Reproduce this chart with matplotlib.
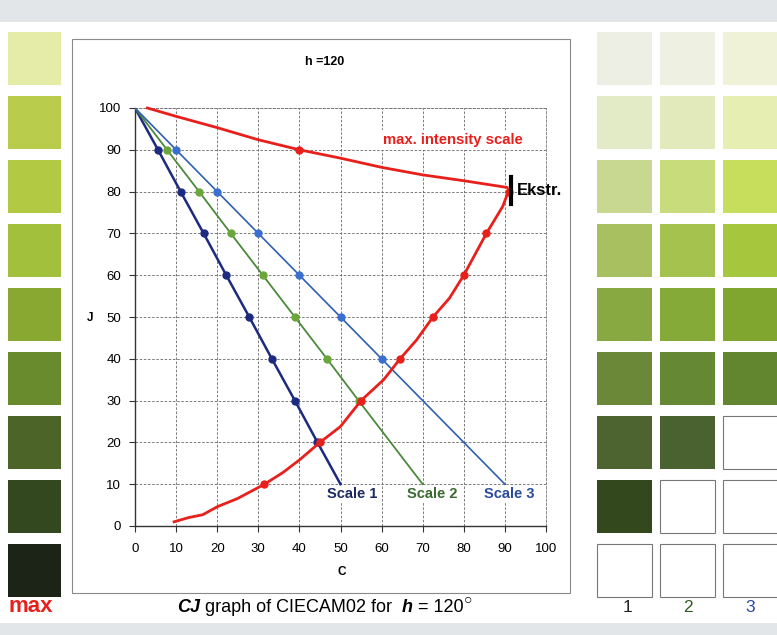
import matplotlib.pyplot as plt
from matplotlib.patches import Rectangle

plt.rcParams['font.family'] = ['Liberation Sans', 'DejaVu Sans']

# J levels shared by the three scales
scale_J = [100, 90, 80, 70, 60, 50, 40, 30, 20, 10]
scale1_C = [0, 5.6, 11.1, 16.7, 22.2, 27.8, 33.3, 38.9, 44.4, 50]
scale2_C = [0, 7.8, 15.6, 23.3, 31.1, 38.9, 46.7, 54.4, 62.2, 70]
scale3_C = [0, 10, 20, 30, 40, 50, 60, 70, 80, 90]
# how many marked points (after J=100) each scale has
scale_marked = [8, 7, 6]

# max intensity scale, upper branch (white -> extreme)
top_C = [3, 10, 20, 30, 40, 50, 60, 70, 80, 90.5]
top_J = [100, 98, 95.3, 92.4, 90, 88, 85.8, 84, 82.6, 81]
# lower branch (black -> extreme)
low_C = [9.5, 13, 16.5, 20, 25, 31.5, 36, 40, 45, 50, 55, 60.5, 64.5, 68.5, 72.5, 76.5, 80, 85.5, 89.5, 91]
low_J = [1, 2, 2.7, 4.6, 6.6, 10, 12.8, 15.8, 20, 23.8, 30, 35, 40, 44.5, 50, 54.5, 60, 70, 76.5, 80.5]
max_mark_C = [40, 31.5, 45, 55, 64.5, 72.5, 80, 85.5, 91]
max_mark_J = [90, 10, 20, 30, 40, 50, 60, 70, 80]

# swatch colours, top row first (None = empty box)
max_swatches = ['#e4eca8', '#b9cc4c', '#b2c944', '#a2c03c', '#88a832',
                '#6a8a2e', '#4c6428', '#344820', '#1c2418']
scale_swatches = [
    ['#eeefe4', '#eef0e2', '#f0f2d8'],
    ['#e2eac6', '#e2eabc', '#e6eeb2'],
    ['#c8d890', '#c8dc7c', '#c6de5c'],
    ['#a8c060', '#a6c24e', '#a6c63e'],
    ['#88a842', '#86aa38', '#80a630'],
    ['#6a8838', '#648834', '#628630'],
    ['#4e6430', '#4a6230', None],
    ['#34481e', None, None],
    [None, None, None],
]

W, H = 777, 635
fig = plt.figure(figsize=(W / 100, H / 100), dpi=100)


def px(x, y):
    return x / W, 1 - y / H


def box(x, y, w, h, **kw):
    fx, fy = px(x, y + h)
    fig.add_artist(Rectangle((fx, fy), w / W, h / H, transform=fig.transFigure, **kw))


# scanned page bands
box(0, 0, W, 22, facecolor='#e2e6e8', edgecolor='none')
box(0, 623, W, 12, facecolor='#e2e6e8', edgecolor='none')

# swatch columns
for i, c in enumerate(max_swatches):
    box(8, 32 + 64 * i, 53, 53, facecolor=c, edgecolor='none')
for i, row in enumerate(scale_swatches):
    for j, c in enumerate(row):
        if c is None:
            box(597 + 63 * j, 32 + 64 * i, 55, 53, facecolor='white', edgecolor='#777777', lw=0.8)
        else:
            box(597 + 63 * j, 32 + 64 * i, 55, 53, facecolor=c, edgecolor='none')

# chart frame
box(72, 39, 498, 554, facecolor='none', edgecolor='#8a8a8a', lw=0.8)

ax = fig.add_axes([135 / W, 1 - 526 / H, 411 / W, 418 / H])
ax.set_xlim(0, 100)
ax.set_ylim(0, 100)
ax.set_xticks(range(0, 101, 10))
ax.set_yticks(range(0, 101, 10))
ax.grid(True, color='#666666', ls=(0, (3, 2)), lw=0.6)
ax.set_axisbelow(True)
for s in ['top', 'right']:
    ax.spines[s].set_color('#777777')
    ax.spines[s].set_linestyle((0, (3, 2)))
    ax.spines[s].set_linewidth(0.6)
for s in ['left', 'bottom']:
    ax.spines[s].set_color('#333333')
    ax.spines[s].set_linewidth(1.0)
ax.tick_params(labelsize=9.5, length=4, width=0.8, color='#333333')
ax.tick_params(axis='x', pad=8)
ax.tick_params(axis='y', pad=6)

scales = [(scale1_C, '#1c2a80', '#1c2a80', 1.8),
          (scale2_C, '#4a8a3a', '#6aa63a', 1.3),
          (scale3_C, '#2f5fb0', '#3a6fd0', 1.2)]
for (sc, lc, mc, lw), n in zip(scales, scale_marked):
    ax.plot(sc, scale_J, color=lc, lw=lw, zorder=3)
    ax.plot(sc[1:n + 1], scale_J[1:n + 1], 'o', color=mc, ms=5, zorder=4)

red = '#e8201c'
ax.plot(top_C, top_J, color=red, lw=2, zorder=5, clip_on=False)
ax.plot(low_C, low_J, color=red, lw=2, zorder=5, clip_on=False)
ax.plot(max_mark_C, max_mark_J, 'o', color=red, ms=5, zorder=6)

# extreme point marker
ax.plot([91.4, 91.4], [77, 83.5], color='black', lw=3, zorder=7, clip_on=False)
ax.text(92.8, 80.2, 'Ekstr.', fontsize=12, fontweight='bold', va='center', ha='left')

ax.text(77.4, 92.3, 'max. intensity scale', color=red, fontsize=10.7, fontweight='bold',
        ha='center', va='center', zorder=8,
        bbox=dict(facecolor='white', edgecolor='none', pad=2))
for x, t, c in [(52.8, 'Scale 1', '#1c2a60'), (72.3, 'Scale 2', '#3a6a30'), (91, 'Scale 3', '#2a4a9a')]:
    ax.text(x, 7.6, t, color=c, fontsize=10.5, fontweight='bold', ha='center', va='center',
            zorder=8, bbox=dict(facecolor='white', edgecolor='none', pad=1))

fig.text(*px(325, 62), 'h =120', fontsize=9, fontweight='bold', ha='center', va='center')
fig.text(*px(90, 318), 'J', fontsize=8.5, fontweight='bold', ha='center', va='center')
fig.text(*px(342, 572), 'C', fontsize=8.5, fontweight='bold', ha='center', va='center')

# caption built from pieces with mixed styles
renderer = fig.canvas.get_renderer()
cx = 177
for piece, wt, st in [('CJ', 'bold', 'italic'), (' graph of CIECAM02 for  ', 'normal', 'normal'),
                      ('h', 'bold', 'italic'), (' = 120', 'normal', 'normal')]:
    t = fig.text(*px(cx, 607), piece, fontsize=13, fontweight=wt, style=st,
                 ha='left', va='center')
    cx += t.get_window_extent(renderer).width
fig.text(*px(cx, 599), '\u25cb', fontsize=10, ha='left', va='center')

fig.text(*px(31, 606), 'max', color=red, fontsize=16, fontweight='bold', ha='center', va='center')
for x, t, c in [(628, '1', '#222222'), (688, '2', '#2e5a22'), (750, '3', '#2a4a9a')]:
    fig.text(*px(x, 608), t, color=c, fontsize=12.5, ha='center', va='center')

fig.savefig('out.png', dpi=100)
